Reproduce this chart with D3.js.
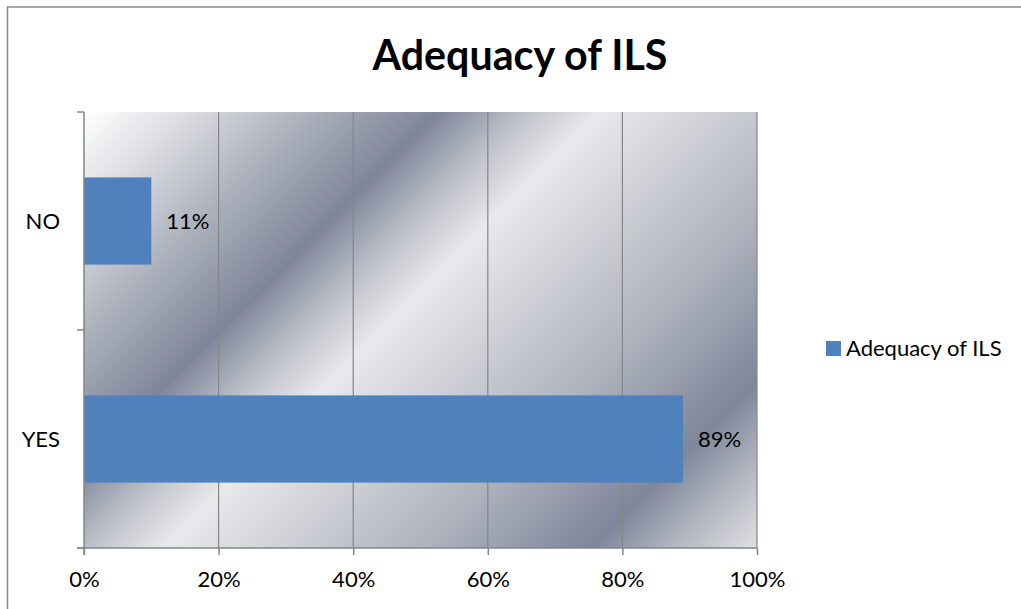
<!DOCTYPE html>
<html>
<head>
<meta charset="utf-8">
<script src="https://cdn.jsdelivr.net/npm/d3@7"></script>
<style>
  html, body { margin: 0; padding: 0; background: #fff; }
  svg { display: block; }
  text { font-family: Lato, "Open Sans", sans-serif; fill: #000; }
</style>
</head>
<body>
<svg id="chart" width="1021" height="609"></svg>
<script>
// ---- data ----
const categories = ["NO", "YES"];
const values = [0.10, 0.89];
const valueLabels = ["11%", "89%"];
const tickValues = [0, 0.2, 0.4, 0.6, 0.8, 1.0];
const tickLabels = ["0%", "20%", "40%", "60%", "80%", "100%"];
const seriesName = "Adequacy of ILS";
const title = "Adequacy of ILS";

// ---- layout ----
const W = 1021, H = 609;
const plot = { left: 84, top: 112, right: 757, bottom: 548 };
const pw = plot.right - plot.left, ph = plot.bottom - plot.top;
const axisColor = "#868686";
const barColor = "#4f81bd";
const fs = 22;

const svg = d3.select("#chart");

// outer chart border
svg.append("rect")
  .attr("x", 7.5).attr("y", 7)
  .attr("width", W + 20).attr("height", H + 20)
  .attr("fill", "#fff").attr("stroke", "#8a8a8a").attr("stroke-width", 1.5);

// title
const t = svg.append("text")
  .attr("x", 520).attr("y", 70)
  .attr("text-anchor", "middle")
  .attr("font-weight", "bold")
  .attr("font-size", 37)
  .text(title);
const tw = t.node().getComputedTextLength();
t.attr("font-size", 37 * 295 / tw);

// gradient background
const defs = svg.append("defs");
const grad = defs.append("linearGradient")
  .attr("id", "chrome")
  .attr("gradientUnits", "userSpaceOnUse")
  .attr("x1", 0).attr("y1", 0)
  .attr("x2", (pw + ph) / 2).attr("y2", (pw + ph) / 2);
const stops = [
  [0.00, "#ffffff"],
  [0.09, "#dcdee2"],
  [0.20, "#aeb2bd"],
  [0.32, "#7f869a"],
  [0.40, "#c0c3cb"],
  [0.465, "#e8e9eb"],
  [0.55, "#d3d5da"],
  [0.70, "#aeb2bd"],
  [0.85, "#7f869a"],
  [0.93, "#b7bac3"],
  [1.00, "#dfe0e3"]
];
grad.selectAll("stop").data(stops).join("stop")
  .attr("offset", d => d[0]).attr("stop-color", d => d[1]);

const g = svg.append("g").attr("transform", `translate(${plot.left},${plot.top})`);
g.append("rect").attr("width", pw).attr("height", ph).attr("fill", "url(#chrome)");

// scales
const x = d3.scaleLinear().domain([0, 1]).range([0, pw]);
const y = d3.scaleBand().domain(categories).range([0, ph]).paddingInner(0.6).paddingOuter(0.3);

// gridlines
g.selectAll("line.grid").data(tickValues.slice(1)).join("line")
  .attr("class", "grid")
  .attr("x1", d => x(d)).attr("x2", d => x(d))
  .attr("y1", 0).attr("y2", ph)
  .attr("stroke", axisColor).attr("stroke-width", 1.2);

// bars
g.selectAll("rect.bar").data(categories).join("rect")
  .attr("class", "bar")
  .attr("x", 0)
  .attr("y", d => y(d))
  .attr("width", (d, i) => x(values[i]))
  .attr("height", y.bandwidth())
  .attr("fill", barColor);

// value labels
g.selectAll("text.val").data(categories).join("text")
  .attr("class", "val")
  .attr("x", (d, i) => x(values[i]) + 15)
  .attr("y", d => y(d) + y.bandwidth() / 2)
  .attr("dy", "0.36em")
  .attr("font-size", fs)
  .text((d, i) => valueLabels[i]);

// x axis
const xAxis = d3.axisBottom(x)
  .tickValues(tickValues)
  .tickSize(7)
  .tickPadding(16)
  .tickFormat((d, i) => tickLabels[i]);
const xg = g.append("g").attr("transform", `translate(0,${ph})`).call(xAxis);
xg.select(".domain").remove();
xg.selectAll(".tick line").attr("stroke", axisColor).attr("stroke-width", 1.5);
xg.selectAll(".tick text").attr("font-size", fs).attr("font-family", "Lato, 'Open Sans', sans-serif").attr("fill", "#000");
xg.append("line").attr("x1", -7).attr("x2", pw).attr("y1", 0).attr("y2", 0)
  .attr("stroke", axisColor).attr("stroke-width", 1.5);

// y axis
g.append("line").attr("x1", 0).attr("x2", 0).attr("y1", 0).attr("y2", ph + 7)
  .attr("stroke", axisColor).attr("stroke-width", 1.5);
const yTicks = [0, ph / 2, ph];
g.selectAll("line.ytick").data(yTicks).join("line")
  .attr("class", "ytick")
  .attr("x1", -7).attr("x2", 0)
  .attr("y1", d => d).attr("y2", d => d)
  .attr("stroke", axisColor).attr("stroke-width", 1.5);
g.selectAll("text.cat").data(categories).join("text")
  .attr("class", "cat")
  .attr("x", -24)
  .attr("y", d => y(d) + y.bandwidth() / 2)
  .attr("dy", "0.36em")
  .attr("text-anchor", "end")
  .attr("font-size", fs)
  .text(d => d);

// legend
const lg = svg.append("g").attr("transform", "translate(826,341)");
lg.append("rect").attr("width", 15).attr("height", 15).attr("fill", barColor);
lg.append("text").attr("x", 20).attr("y", 7.5).attr("dy", "0.36em")
  .attr("font-size", fs).text(seriesName);
</script>
</body>
</html>
